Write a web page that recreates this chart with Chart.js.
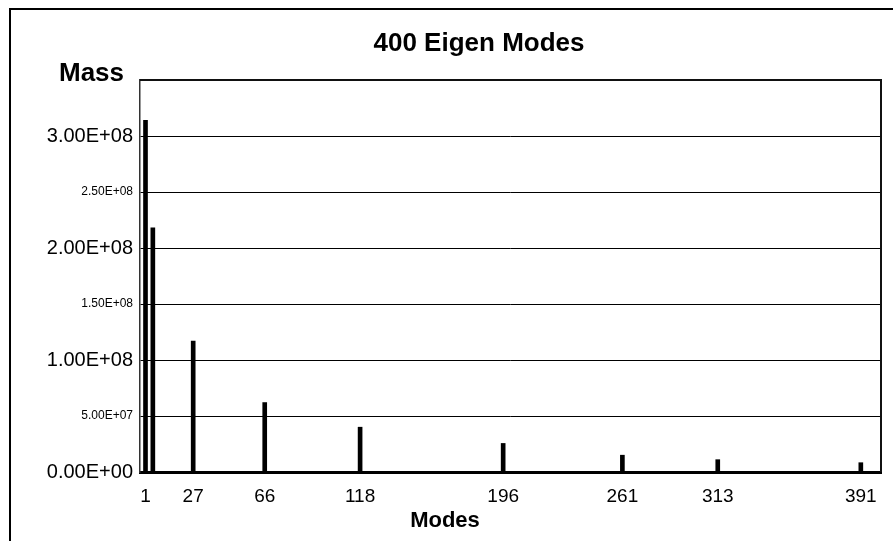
<!DOCTYPE html>
<html>
<head>
<meta charset="utf-8">
<script src="https://cdn.jsdelivr.net/npm/chart.js@4.4.1/dist/chart.umd.min.js"></script>
<style>
  html, body { margin: 0; padding: 0; background: #fff; }
  canvas { display: block; }
</style>
</head>
<body>
<canvas id="modes" width="893" height="541"></canvas>
<script>
// modal mass per eigen mode
const modes = [1, 5, 27, 66, 118, 196, 261, 313, 391];
const mass = [3.14e8, 2.18e8, 1.17e8, 6.2e7, 4.0e7, 2.55e7, 1.5e7, 1.1e7, 8.3e6];
const modeTicks = [1, 27, 66, 118, 196, 261, 313, 391];

const FONT = '"Liberation Sans", Arial, sans-serif';

function sci(v) {
  if (v === 0) return '0.00E+00';
  let e = Math.floor(Math.log10(v));
  let m = v / Math.pow(10, e);
  return m.toFixed(2) + 'E+' + String(e).padStart(2, '0');
}

// outer frame, plot box and the three captions
const decorations = {
  id: 'decorations',
  afterDraw(chart) {
    const c = chart.ctx;
    const a = chart.chartArea;
    c.save();
    c.fillStyle = '#000';
    c.fillRect(9, 8, 2, 533);
    c.fillRect(9, 8, 884, 2);

    c.strokeStyle = '#111';
    c.lineWidth = 2;
    c.beginPath();
    c.moveTo(a.left, a.top);
    c.lineTo(a.right, a.top);
    c.lineTo(a.right, a.bottom);
    c.stroke();

    c.textBaseline = 'alphabetic';
    c.font = 'bold 26px ' + FONT;
    c.textAlign = 'center';
    c.fillText('400 Eigen Modes', 479, 51);
    c.textAlign = 'left';
    c.fillText('Mass', 59, 81);
    c.font = 'bold 22px ' + FONT;
    c.textAlign = 'center';
    c.fillText('Modes', 445, 527);
    c.restore();
  }
};

let chart = new Chart(document.getElementById('modes').getContext('2d'), {
  type: 'bar',
  data: {
    datasets: [{
      data: modes.map((m, i) => ({ x: m, y: mass[i] })),
      backgroundColor: '#000',
      barThickness: 4
    }]
  },
  options: {
    responsive: false,
    animation: false,
    layout: { padding: { top: 80, right: 12, left: 0, bottom: 0 } },
    plugins: {
      legend: { display: false },
      tooltip: { enabled: false }
    },
    scales: {
      x: {
        type: 'linear',
        min: -2,
        max: 402,
        offset: false,
        afterBuildTicks: s => { s.ticks = modeTicks.map(v => ({ value: v })); },
        afterFit: s => { s.height = 69; },
        grid: { display: false },
        border: { color: '#000', width: 3 },
        ticks: {
          autoSkip: false,
          maxRotation: 0,
          color: '#000',
          padding: 5,
          font: { family: FONT, size: 19 }
        }
      },
      y: {
        min: 0,
        max: 3.5e8,
        afterFit: s => { s.width = 140; },
        grid: { color: '#000', lineWidth: 1, drawTicks: false },
        border: { color: '#333', width: 1.5 },
        ticks: {
          stepSize: 5e7,
          color: '#000',
          padding: 7,
          callback: v => (v >= 3.4e8 ? '' : sci(v)),
          font: ctx => {
            // whole 1E+08 steps get the big label, half steps the small one
            let big = !ctx.tick || Math.round(ctx.tick.value / 5e7) % 2 === 0;
            return { family: FONT, size: big ? 20 : 12 };
          }
        }
      }
    }
  },
  plugins: [decorations]
});
</script>
</body>
</html>
